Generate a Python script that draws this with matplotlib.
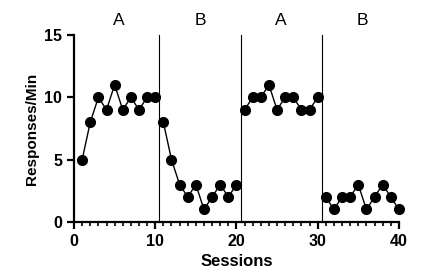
import numpy as np
import matplotlib.pyplot as plt

plt.rcParams['font.family'] = ['Liberation Sans', 'DejaVu Sans']

phase_labels = ['A', 'B', 'A', 'B']
phase_sessions = [
    list(range(1, 11)),
    list(range(11, 21)),
    list(range(21, 31)),
    list(range(31, 41)),
]
phase_values = [
    [5, 8, 10, 9, 11, 9, 10, 9, 10, 10],
    [8, 5, 3, 2, 3, 1, 2, 3, 2, 3],
    [9, 10, 10, 11, 9, 10, 10, 9, 9, 10],
    [2, 1, 2, 2, 3, 1, 2, 3, 2, 1],
]
phase_changes = [10.5, 20.5, 30.5]


def plot_data():
    fig = plt.figure(figsize=(4.23, 2.76), dpi=100)
    ax = fig.add_axes([0.175, 0.196, 0.768, 0.677])

    for xs, ys in zip(phase_sessions, phase_values):
        ax.plot(xs, ys, color='black', lw=1, marker='o', markersize=7,
                clip_on=False, zorder=3)

    for xc in phase_changes:
        ax.plot([xc, xc], [0, 15], color='black', lw=0.8, clip_on=False)

    # phase labels centred above each phase
    for lab, xs in zip(phase_labels, phase_sessions):
        ax.text(np.mean(xs), 15.6, lab, ha='center', va='bottom', fontsize=12.5)

    ax.set_xlim(0, 40)
    ax.set_ylim(0, 15)
    ax.set_xticks([0, 10, 20, 30, 40])
    ax.set_xticks(np.arange(0, 41, 1), minor=True)
    ax.set_yticks([0, 5, 10, 15])
    ax.spines['top'].set_visible(False)
    ax.spines['right'].set_visible(False)
    for s in ('left', 'bottom'):
        ax.spines[s].set_linewidth(1.6)
    ax.tick_params(which='major', length=5, width=1.6, labelsize=11.5)
    ax.tick_params(which='minor', length=3, width=1.2)
    for t in ax.get_xticklabels() + ax.get_yticklabels():
        t.set_fontweight('bold')

    ax.set_xlabel('Sessions', fontsize=12, fontweight='bold')
    ax.set_ylabel('Responses/Min', fontsize=11, fontweight='bold')

    fig.savefig('out.png', dpi=100)


if __name__ == '__main__':
    plot_data()
